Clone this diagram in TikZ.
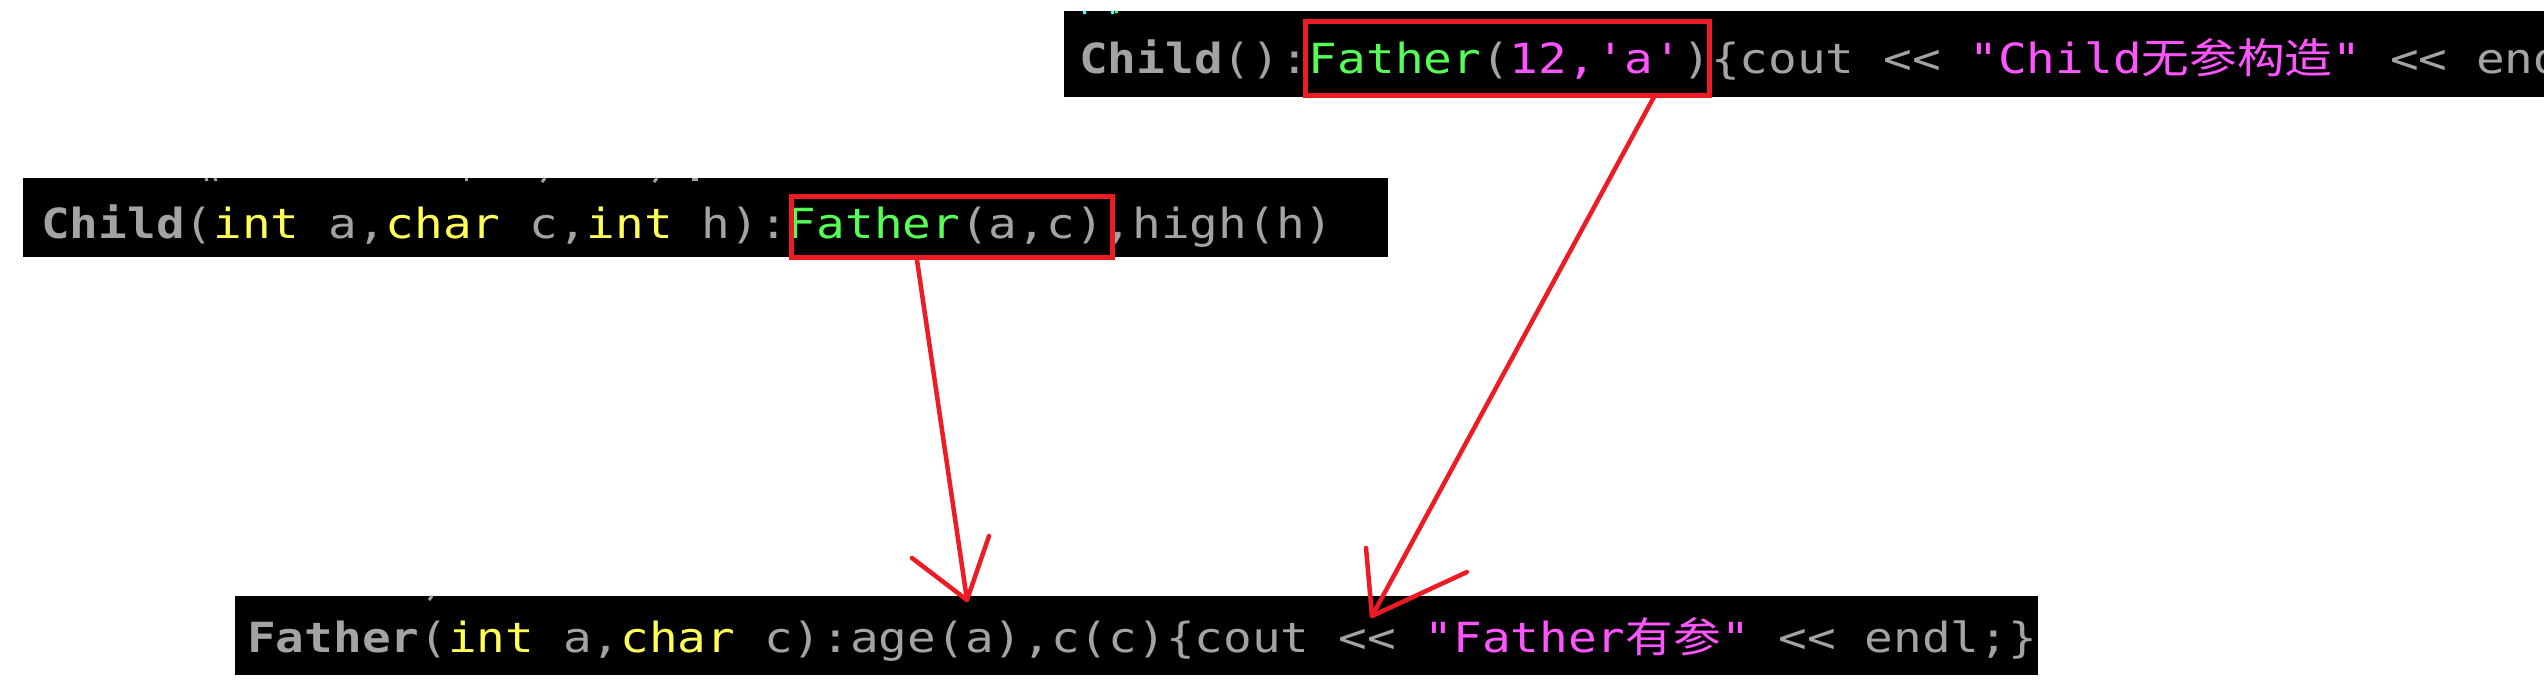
\documentclass[tikz,border=0pt]{standalone}
\usepackage{graphicx}
\usepackage{fontspec}
\setmonofont{DejaVu Sans Mono}
\newfontfamily\cjkf{Noto Sans CJK SC}
\definecolor{cgray}{RGB}{163,163,163}
\definecolor{cyel}{RGB}{255,255,85}
\definecolor{cgrn}{RGB}{85,255,85}
\definecolor{cmag}{RGB}{255,85,255}
\definecolor{ccyan}{RGB}{85,255,255}
\definecolor{pred}{RGB}{237,28,36}
\newcommand{\Q}{\symbol{34}}
\newcommand{\A}{\symbol{39}}
\newcommand{\LL}{\symbol{60}\symbol{60}}
\newcommand{\G}[1]{\textcolor{cgray}{#1}}
\newcommand{\Y}[1]{\textcolor{cyel}{#1}}
\newcommand{\N}[1]{\textcolor{cgrn}{#1}}
\newcommand{\M}[1]{\textcolor{cmag}{#1}}
\newcommand{\codeline}[1]{\scalebox{1}[0.87]{#1}}
\begin{document}
\begin{tikzpicture}[x=1pt,y=-1pt,
  blackbox/.style={fill=black,draw=none,inner sep=0pt,anchor=north west},
  code/.style={inner sep=0pt,anchor=base west,font=\ttfamily\fontsize{47.7}{50}\selectfont},
  redbox/.style={draw=pred,line width=5pt,inner sep=0pt,anchor=north west},
  redline/.style={draw=pred,line width=4.5pt,line cap=round,line join=round},
  frag/.style={line width=3pt}]
\useasboundingbox (0,0) rectangle (2544,689);
\fill[white] (0,0) rectangle (2544,689);

% black code strips
\node[blackbox,minimum width=1480pt,minimum height=86pt] (topbg) at (1064,11) {};
\node[blackbox,minimum width=1365pt,minimum height=79pt] (midbg) at (23,178) {};
\node[blackbox,minimum width=1803pt,minimum height=79pt] (botbg) at (235,596) {};

% fragments of the lines above (cut off)
\draw[frag,ccyan] (1084,11) -- (1085,14);
\draw[frag,ccyan] (1112,11) -- (1113,14);
\draw[frag,cgrn] (1116,11) -- (1117,13);
\draw[frag,cgray] (206,178) -- (207,181) (215,178) -- (216,181);
\draw[frag,cgray] (466,178) -- (466,181);
\draw[frag,cgray] (545,178) -- (542,182);
\draw[frag,cgray] (657,178) -- (654,182);
\draw[frag,cgray] (692,179) -- (698,179);
\draw[frag,cgray] (432,596) -- (429,600);

% code texts
\node[code] (toptext) at (1079,73) {\codeline{\G{\textbf{Child}():}\N{Father}\G{(}\M{12,\A a\A}\G{)\{cout\ \LL\ }\M{\Q Child{\cjkf 无参构造}\Q}\G{\ \LL\ endl;\}}}};
\node[code] (midtext) at (41,238) {\codeline{\G{\textbf{Child}(}\Y{int}\G{\ a,}\Y{char}\G{\ c,}\Y{int}\G{\ h):}\N{Father}\G{(a,c),high(h)}}};
\node[code] (bottext) at (247,652) {\codeline{\G{\textbf{Father}(}\Y{int}\G{\ a,}\Y{char}\G{\ c):age(a),c(c)\{cout\ \LL\ }\M{\Q Father{\cjkf 有参}\Q}\G{\ \LL\ endl;\}}}};

% red highlight boxes
\node[redbox,minimum width=404pt,minimum height=74pt] (hl1) at (1302.5,18.5) {};
\node[redbox,minimum width=321pt,minimum height=61pt] (hl2) at (788.5,193.5) {};

% arrow coordinates
\coordinate (a1s) at (917,260);
\coordinate (a1t) at (967,600);
\coordinate (a1l) at (912,558);
\coordinate (a1r) at (989,536);
\coordinate (a2s) at (1655,95);
\coordinate (a2t) at (1372,616);
\coordinate (a2l) at (1366,548);
\coordinate (a2r) at (1467,572);

\draw[redline] (a1s) -- (a1t);
\draw[redline] (a1l) -- (a1t) -- (a1r);
\draw[redline] (a2s) -- (a2t);
\draw[redline] (a2l) -- (a2t) -- (a2r);
\end{tikzpicture}
\end{document}
